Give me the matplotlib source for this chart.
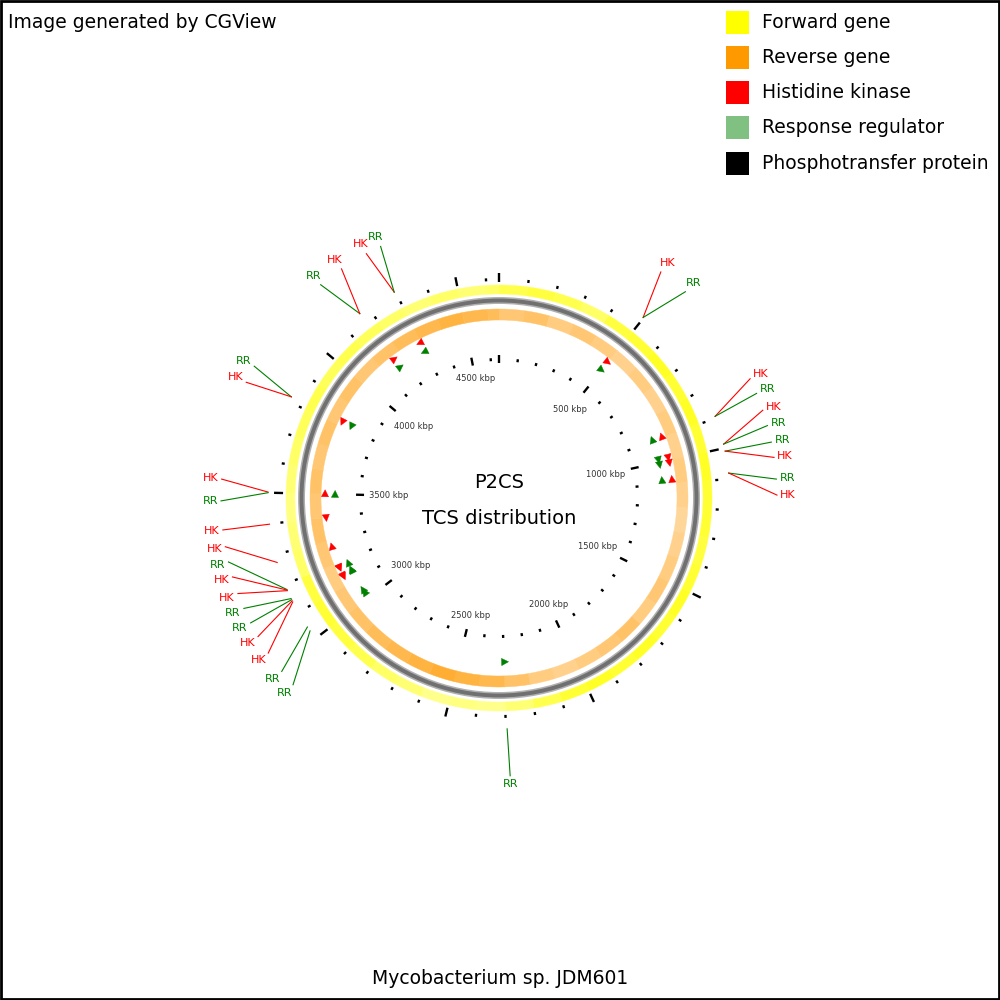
import numpy as np
import matplotlib.pyplot as plt
from matplotlib.patches import Wedge, Rectangle, Polygon

GENOME_KBP = 4644

# gene density per 100 kbp window (0 empty .. 1 solid)
fwd_density = [0.70, 0.75, 0.70, 0.60, 0.75, 0.80, 0.85, 0.80, 0.85, 0.80,
               0.85, 0.80, 0.80, 0.75, 0.80, 0.85, 0.80, 0.85, 0.80, 0.85,
               0.80, 0.70, 0.55, 0.45, 0.50, 0.45, 0.55, 0.60, 0.70, 0.75,
               0.80, 0.75, 0.60, 0.55, 0.50, 0.55, 0.60, 0.65, 0.70, 0.65,
               0.70, 0.65, 0.60, 0.55, 0.60, 0.55, 0.60]
rev_density = [0.55, 0.60, 0.50, 0.55, 0.50, 0.45, 0.50, 0.45, 0.50, 0.45,
               0.50, 0.45, 0.40, 0.45, 0.50, 0.55, 0.50, 0.60, 0.55, 0.50,
               0.45, 0.50, 0.60, 0.70, 0.75, 0.80, 0.75, 0.70, 0.65, 0.60,
               0.55, 0.50, 0.55, 0.60, 0.55, 0.60, 0.55, 0.60, 0.55, 0.60,
               0.55, 0.60, 0.65, 0.70, 0.75, 0.70, 0.65]

# two-component system genes: position (kbp), type, strand (+1 forward, -1 reverse)
feat_kbp = [498, 498, 894, 894, 987, 987, 1010, 1010, 1081, 1081,
            2296, 3502, 3500, 3399, 3274, 3182, 3180, 3178, 3150, 3146,
            3142, 3138, 3045, 3030, 3818, 3818, 4166, 4166, 4296, 4296]
feat_type = ['HK', 'RR', 'HK', 'RR', 'HK', 'RR', 'RR', 'HK', 'RR', 'HK',
             'RR', 'HK', 'RR', 'HK', 'HK', 'RR', 'HK', 'HK', 'RR', 'RR',
             'HK', 'HK', 'RR', 'RR', 'RR', 'HK', 'RR', 'HK', 'HK', 'RR']
feat_strand = [1, 1, -1, -1, 1, 1, 1, 1, -1, -1,
               -1, 1, 1, -1, 1, 1, -1, -1, 1, 1,
               -1, -1, 1, 1, -1, -1, 1, 1, -1, -1]
# angle (degrees clockwise from top) where each label's leader line ends
label_deg = [35.6, 42.1, 64.6, 67.9, 71.6, 74.9, 78.4, 81.6, 86.1, 89.4,
             177.7, 273.9, 269.4, 263.4, 259.9, 256.7, 253.5, 249.9, 246.6, 243.3,
             240.1, 236.1, 231.4, 227.8, 298.3, 294.6, 320.1, 325.5, 331.5, 334.8]

legend_labels = ['Forward gene', 'Reverse gene', 'Histidine kinase',
                 'Response regulator', 'Phosphotransfer protein']
legend_colors = ['#FFFF00', '#FF9900', '#FF0000', '#80C080', '#000000']

TYPE_COLOR = {'HK': '#FF0000', 'RR': '#008000'}
TYPE_RADIUS = {'HK': 174, 'RR': 164}


def kbp_to_rad(kbp):
    return np.deg2rad(np.asarray(kbp) / GENOME_KBP * 360.0)


def polar(r, theta):
    """theta in radians, clockwise from 12 o'clock"""
    return r * np.sin(theta), r * np.cos(theta)


def blend(hex_color, d):
    rgb = np.array([int(hex_color[i:i + 2], 16) for i in (1, 3, 5)]) / 255.0
    return tuple(1 - d + d * rgb)


def draw_gene_ring(ax, density, r_in, r_out, color):
    for i, d in enumerate(density):
        a = i * 100 / GENOME_KBP * 360
        b = min((i + 1) * 100, GENOME_KBP) / GENOME_KBP * 360
        c = blend(color, d)
        ax.add_patch(Wedge((0, 0), r_out, 90 - b, 90 - a, width=r_out - r_in,
                           facecolor=c, edgecolor=c, lw=0.3))


def draw_ticks(ax):
    for k in range(0, GENOME_KBP, 100):
        t = kbp_to_rad(k)
        major = k % 500 == 0
        # outer ticks
        r0, r1 = (216, 225) if major else (217, 220)
        x0, y0 = polar(r0, t)
        x1, y1 = polar(r1, t)
        ax.plot([x0, x1], [y0, y1], color='black', lw=1.7, solid_capstyle='butt')
        # inner ticks
        r0, r1 = (135, 143) if major else (137, 140)
        x0, y0 = polar(r0, t)
        x1, y1 = polar(r1, t)
        ax.plot([x0, x1], [y0, y1], color='black', lw=1.7, solid_capstyle='butt')
        if major and k > 0:
            w, h = 40, 9
            r = 130 - w / 2 * abs(np.sin(t)) - h / 2 * abs(np.cos(t))
            x, y = polar(r, t)
            ax.text(x, y, f'{k} kbp', ha='center', va='center',
                    fontsize=6, color='#333333')


def draw_features(ax):
    for k, typ, strand, ldeg in zip(feat_kbp, feat_type, feat_strand, label_deg):
        t = kbp_to_rad(k)
        col = TYPE_COLOR[typ]
        r = TYPE_RADIUS[typ]
        cx, cy = polar(r, t)
        tang = np.array([np.cos(t), -np.sin(t)]) * strand
        rad = np.array([np.sin(t), np.cos(t)])
        p = np.array([cx, cy])
        tri = [p + tang * 3.8, p - tang * 3.2 + rad * 3.6, p - tang * 3.2 - rad * 3.6]
        ax.add_patch(Polygon(tri, closed=True, facecolor=col, edgecolor=col, lw=0.3))

        # leader line + label outside the map
        lt = np.deg2rad(ldeg)
        xs, ys = polar(231, t)
        xe, ye = polar(278, lt)
        ax.plot([xs, xe], [ys, ye], color=col, lw=0.8)
        off = 7.5 * abs(np.sin(lt)) + 5 * abs(np.cos(lt)) + 3
        xt, yt = polar(278 + off, lt)
        ax.text(xt, yt, typ, ha='center', va='center', fontsize=8, color=col)


fig = plt.figure(figsize=(10, 10), dpi=100)
ax = fig.add_axes([0, 0, 1, 1])
ax.set_xlim(-499, 501)
ax.set_ylim(-502, 498)
ax.set_aspect('equal')
ax.axis('off')

# gene rings and backbone
draw_gene_ring(ax, fwd_density, 204, 213, '#FFFF00')
draw_gene_ring(ax, rev_density, 178, 189, '#FF9900')
ax.add_patch(plt.Circle((0, 0), 197.5, fill=False, edgecolor='#B0B0B0', lw=5.0))
ax.add_patch(plt.Circle((0, 0), 197.5, fill=False, edgecolor='#707070', lw=2.8))

draw_ticks(ax)
draw_features(ax)

# centre title
ax.text(0, 15, 'P2CS', ha='center', va='center', fontsize=14)
ax.text(0, -20, 'TCS distribution', ha='center', va='center', fontsize=14)

# legend
for i, (lab, col) in enumerate(zip(legend_labels, legend_colors)):
    yc = 476 - i * 35.3
    ax.add_patch(Rectangle((227, yc - 11.5), 23, 23, facecolor=col, edgecolor='none'))
    ax.text(263, yc, lab, ha='left', va='center', fontsize=13.5)

ax.text(-491, 476, 'Image generated by CGView', ha='left', va='center', fontsize=13.5)
ax.text(1, -481, 'Mycobacterium sp. JDM601', ha='center', va='center', fontsize=13.5)

fig.add_artist(Rectangle((0.001, 0.001), 0.998, 0.998, transform=fig.transFigure,
                         fill=False, edgecolor='black', lw=2))

fig.savefig('out.png', dpi=100)
